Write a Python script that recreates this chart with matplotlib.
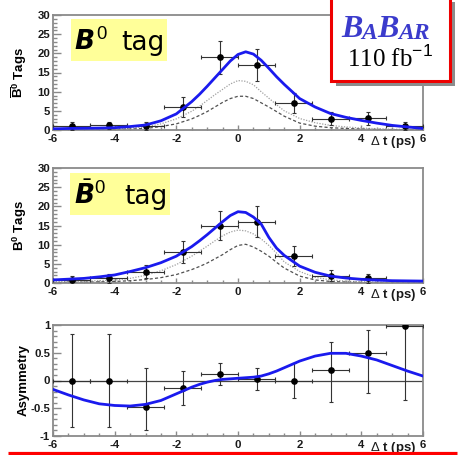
import matplotlib
matplotlib.use("Agg")
import matplotlib.pyplot as plt
from matplotlib.patches import Rectangle
from matplotlib.ticker import MultipleLocator
from matplotlib.transforms import offset_copy

plt.rcParams['font.family'] = ['Liberation Sans', 'DejaVu Sans']
plt.rcParams['mathtext.fontset'] = 'custom'
plt.rcParams['mathtext.rm'] = 'Liberation Sans'
plt.rcParams['mathtext.bf'] = 'Liberation Sans:weight=bold'
plt.rcParams['mathtext.it'] = 'DejaVu Sans:style=italic:weight=bold'

# ---------------- data ----------------
bin_t = [-5.4, -4.2, -3.0, -1.8, -0.6, 0.6, 1.8, 3.0, 4.2, 5.4]
bin_half = [0.6, 0.6, 0.6, 0.6, 0.6, 0.6, 0.6, 0.6, 0.6, 0.6]

b0_counts = [1.0, 1.2, 1.0, 6.0, 19.0, 17.0, 7.0, 3.0, 3.1, 1.0]
b0_err = [1.0, 1.0, 1.0, 2.5, 4.3, 4.1, 2.6, 1.7, 1.7, 1.0]

b0bar_t = [-5.4, -4.2, -3.0, -1.8, -0.6, 0.6, 1.8, 3.0, 4.2]
b0bar_half = [0.6, 0.6, 0.6, 0.6, 0.6, 0.6, 0.6, 0.6, 0.6]
b0bar_counts = [0.8, 1.2, 2.9, 8.0, 15.0, 16.0, 7.0, 1.9, 1.2]
b0bar_err = [1.0, 1.1, 1.7, 2.9, 3.9, 4.0, 2.6, 1.4, 1.1]

asym_vals = [0.0, 0.0, -0.48, -0.13, 0.11, 0.03, 0.0, 0.19, 0.49, 0.99]
asym_err_lo = [0.83, 0.83, 0.42, 0.31, 0.19, 0.20, 0.31, 0.58, 0.71, 1.34]
asym_err_hi = [0.84, 0.84, 0.71, 0.31, 0.20, 0.20, 0.31, 0.50, 0.42, 0.0]

curve_t = [-6, -5.5, -5, -4.5, -4, -3.5, -3, -2.5, -2, -1.5, -1.25, -1, -0.75, -0.5,
           -0.25, 0, 0.25, 0.5, 0.75, 1, 1.25, 1.5, 2, 2.5, 3, 3.5, 4, 4.5, 5, 5.5, 6]

b0_fit = [0.3, 0.4, 0.45, 0.5, 0.6, 0.9, 1.3, 2.4, 4.2, 7.4, 9.3, 11.4, 13.6, 15.8,
          18.0, 19.7, 20.4, 19.8, 18.2, 16.1, 13.9, 11.9, 8.2, 6.0, 4.3, 3.3, 2.5, 1.8, 1.2, 0.8, 0.4]
b0_dot = [0.05, 0.08, 0.1, 0.15, 0.3, 0.5, 0.8, 1.6, 2.9, 4.9, 6.2, 7.7, 9.2, 10.6,
          12.0, 12.9, 12.7, 11.8, 10.0, 8.3, 6.6, 5.0, 3.0, 1.9, 1.2, 0.8, 0.5, 0.35, 0.2, 0.15, 0.1]
b0_dash = [0.02, 0.03, 0.05, 0.08, 0.15, 0.25, 0.4, 0.9, 1.6, 2.9, 3.8, 4.8, 6.0, 7.2,
           8.2, 8.8, 8.8, 8.2, 7.1, 6.0, 4.8, 3.6, 1.8, 1.0, 0.6, 0.4, 0.25, 0.15, 0.1, 0.05, 0.03]

b0bar_fit = [0.8, 1.0, 1.2, 1.6, 2.1, 3.0, 4.0, 5.3, 7.0, 9.5, 11.0, 12.6, 14.3, 16.0,
             17.6, 18.6, 18.4, 17.2, 15.4, 11.9, 9.1, 7.2, 4.4, 2.8, 1.8, 1.3, 0.95, 0.75, 0.6, 0.55, 0.5]
b0bar_dot = [0.3, 0.4, 0.5, 0.6, 0.8, 1.2, 2.0, 3.2, 4.8, 7.0, 8.3, 9.6, 11.0, 12.3,
             13.3, 13.8, 13.6, 12.8, 11.5, 9.8, 7.8, 5.5, 3.0, 1.5, 0.8, 0.5, 0.3, 0.25, 0.2, 0.15, 0.1]
b0bar_dash = [0.1, 0.15, 0.2, 0.3, 0.4, 0.6, 0.9, 1.4, 2.2, 3.5, 4.3, 5.2, 6.3, 7.4,
              8.7, 9.8, 10.1, 9.4, 8.3, 7.0, 5.4, 3.9, 1.8, 0.8, 0.4, 0.25, 0.15, 0.1, 0.05, 0.03, 0.02]

asym_fit = [-0.16, -0.26, -0.35, -0.42, -0.45, -0.46, -0.43, -0.36, -0.24, -0.12, -0.07, -0.03,
            0.0, 0.02, 0.03, 0.04, 0.05, 0.06, 0.08, 0.12, 0.17, 0.23, 0.35, 0.44, 0.49, 0.49,
            0.44, 0.37, 0.27, 0.17, 0.08]

x_ticks = [-6, -4, -2, 0, 2, 4, 6]
count_ticks = [0, 5, 10, 15, 20, 25, 30]
asym_ticks = [-1, -0.5, 0, 0.5, 1]

# ---------------- layout ----------------
W, H = 459, 455
fig = plt.figure(figsize=(W / 100, H / 100), dpi=100)
fig.patch.set_facecolor('white')

def px_axes(left, top, right, bottom):
    return fig.add_axes([left / W, 1 - bottom / H, (right - left) / W, (bottom - top) / H])

FRAME = '#8a8a8a'
BLUE = '#1a1aee'

def style(ax, ylim, yticks, ymin):
    ax.set_xlim(-6, 6)
    ax.set_ylim(*ylim)
    for s in ['top', 'right', 'left', 'bottom']:
        ax.spines[s].set_color(FRAME)
        ax.spines[s].set_linewidth(1.3)
    ax.set_xticks(x_ticks)
    ax.set_xticklabels([str(v) for v in x_ticks])
    ax.set_yticks(yticks)
    ax.set_yticklabels([('%g' % v) for v in yticks])
    ax.xaxis.set_minor_locator(MultipleLocator(0.5))
    ax.yaxis.set_minor_locator(MultipleLocator(ymin))
    ax.tick_params(axis='both', which='both', direction='in', colors=FRAME,
                   labelcolor='#1a1a1a', top=False, right=False, width=1.0)
    ax.tick_params(axis='y', which='major', length=6, pad=2, labelsize=8.2)
    ax.tick_params(axis='y', which='minor', length=3)
    ax.tick_params(axis='x', which='major', length=3.5, pad=3, labelsize=8.2)
    ax.tick_params(axis='x', which='minor', length=2)
    for lab in ax.get_xticklabels() + ax.get_yticklabels():
        lab.set_fontweight('bold')
    tr = offset_copy(ax.transAxes, fig=fig, x=-7, y=-12, units='dots')
    ax.text(1.0, 0.0, r'$\Delta$ t (ps)', transform=tr, ha='right', va='center',
            fontsize=9.5, fontweight='bold', color='#1a1a1a', zorder=5)

def draw_counts(ax, t, half, n, e, fit, dot, dash):
    ax.plot(curve_t, dot, color='#a0a0a0', lw=0.9, ls=(0, (1, 1.2)), zorder=2)
    ax.plot(curve_t, dash, color='#505050', lw=0.9, ls=(0, (2.5, 1.8)), zorder=2)
    ax.errorbar(t, n, yerr=e, xerr=half, fmt='o', ms=3.8, color='black', ecolor='#333333',
                elinewidth=0.8, capsize=1.5, capthick=0.8, zorder=3)
    ax.plot(curve_t, fit, color=BLUE, lw=2.0, zorder=4)

ax1 = px_axes(53, 15, 423, 130)
style(ax1, (0, 30), count_ticks, 1)
draw_counts(ax1, bin_t, bin_half, b0_counts, b0_err, b0_fit, b0_dot, b0_dash)
ax1.set_ylabel(r'$\overline{\mathbf{B}}^{\mathbf{0}}$ Tags', fontsize=9.5, fontweight='bold')

ax2 = px_axes(53, 168, 423, 283)
style(ax2, (0, 30), count_ticks, 1)
draw_counts(ax2, b0bar_t, b0bar_half, b0bar_counts, b0bar_err, b0bar_fit, b0bar_dot, b0bar_dash)
ax2.set_ylabel(r'$\mathbf{B}^{\mathbf{0}}$ Tags', fontsize=9.5, fontweight='bold')

ax3 = px_axes(53, 325, 423, 436)
style(ax3, (-1, 1), asym_ticks, 0.1)
ax3.axhline(0, color='#444444', lw=0.9, zorder=1)
ax3.errorbar(bin_t, asym_vals, yerr=[asym_err_lo, asym_err_hi], xerr=bin_half, fmt='o', ms=3.8,
             color='black', ecolor='#333333', elinewidth=0.8, capsize=1.5, capthick=0.8, zorder=3)
ax3.plot(curve_t, asym_fit, color=BLUE, lw=2.0, zorder=4)
ax3.set_ylabel('Asymmetry', fontsize=9.5, fontweight='bold')

for ax in (ax1, ax2, ax3):
    ax.yaxis.set_label_coords(-0.064, 0.5)

# ---------------- overlay decorations ----------------
ov = fig.add_axes([0, 0, 1, 1], zorder=10)
ov.set_xlim(0, W)
ov.set_ylim(H, 0)
ov.axis('off')
ov.patch.set_alpha(0)

YEL = '#ffff99'
ov.add_patch(Rectangle((71, 19), 96, 42, facecolor=YEL, edgecolor='none'))
ov.text(74, 50, r'$B^{0}$', fontsize=19, ha='left', va='baseline', color='black')
ov.text(121, 50, 'tag', fontsize=19, ha='left', va='baseline', color='black',
        family='DejaVu Sans')
ov.add_patch(Rectangle((70, 173), 100, 42, facecolor=YEL, edgecolor='none'))
ov.text(74, 204, r'$\bar{B}^{0}$', fontsize=19, ha='left', va='baseline', color='black')
ov.text(124, 204, 'tag', fontsize=19, ha='left', va='baseline', color='black',
        family='DejaVu Sans')

# BaBar box with shadow
ov.add_patch(Rectangle((336, 2), 119, 84, facecolor='#8c8c8c', edgecolor='none'))
ov.add_patch(Rectangle((331, -4), 119, 85, facecolor='white', edgecolor='#ee0000', lw=2.2))
big, small = 23, 17
kw = dict(family='Liberation Serif', style='italic', fontweight='bold', color='#3b3bcc')
t1 = ov.text(341, 37, 'B', fontsize=big, ha='left', va='baseline', **kw)
t2 = ov.annotate('A', xy=(1, 0), xycoords=t1, xytext=(-0.5, 0), textcoords='offset points',
                 fontsize=small, ha='left', va='bottom', **kw)
t3 = ov.annotate('B', xy=(1, 0), xycoords=t2, xytext=(0, 0), textcoords='offset points',
                 fontsize=big, ha='left', va='bottom', **kw)
t4 = ov.annotate('AR', xy=(1, 0), xycoords=t3, xytext=(-0.5, 0), textcoords='offset points',
                 fontsize=small, ha='left', va='bottom', **kw)
ov.text(390, 67, '110 fb$^{\u2212\mathrm{1}}$', fontsize=18, family='Liberation Serif',
        ha='center', va='baseline', color='black')

# red bottom rule
ov.plot([8, 457], [452.5, 452.5], color='#ff0000', lw=2.3, solid_capstyle='butt')

fig.savefig('out.png', dpi=100, facecolor='white')
